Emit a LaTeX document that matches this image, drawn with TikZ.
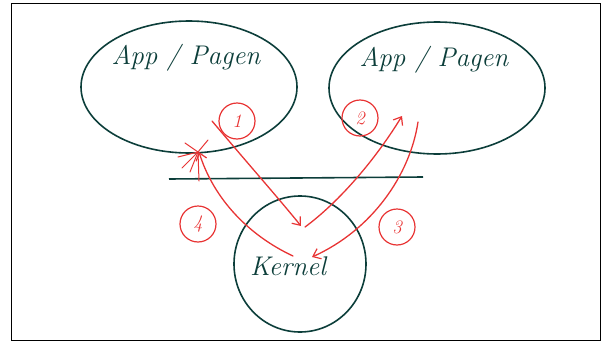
\documentclass[tikz,border=0pt]{standalone}
\usetikzlibrary{arrows.meta,shapes.geometric}
\definecolor{ink}{RGB}{12,62,58}
\definecolor{pen}{RGB}{232,52,52}
\tikzset{
  outline/.style={draw=ink, line width=1.6pt, line join=round},
  flow/.style={draw=pen, line width=1.3pt, line cap=round,
    -{Straight Barb[length=7pt,width=11pt,line width=1.2pt]}},
  spoke/.style={draw=pen, line width=1pt, line cap=round},
  stepmark/.style={circle, draw=pen, line width=1.2pt, minimum size=36pt,
    inner sep=0pt, text=pen, font=\fontsize{19}{19}\selectfont\itshape},
  handtext/.style={text=ink, font=\fontsize{27}{29}\selectfont\itshape},
  oval/.style={outline, ellipse, inner sep=0pt}
}
\begin{document}
\begin{tikzpicture}[x=1pt,y=-1pt]
\useasboundingbox (0,0) rectangle (608,343);
\draw[line width=1pt] (11,3) rectangle (600,340);

% two application processes
\node[oval, minimum width=216pt, minimum height=132pt] (procL) at (189,87) {};
\node[oval, minimum width=216pt, minimum height=132pt] (procR) at (437,88) {};
\node[handtext] (appL) at (186,58) {App / Pagen};
\node[handtext] (appR) at (434,60) {App / Pagen};

% user/kernel boundary
\coordinate (bl) at (169,179);
\coordinate (br) at (423,177);
\draw[ink, line width=1.6pt] (bl) -- (br);

% kernel
\node[oval, minimum width=132pt, minimum height=136pt] (kern) at (300,264) {};
\node[handtext] (kl) at (288,266) {Kernel};

% numbered steps
\node[stepmark] (n1) at (237,121) {1};
\node[stepmark] (n2) at (360,118) {2};
\node[stepmark] (n3) at (397,227) {3};
\node[stepmark] (n4) at (198,224) {4};

% path of a call
\coordinate (a1s) at (212,121);
\coordinate (a1e) at (301,226);
\coordinate (a2s) at (305,227);
\coordinate (a2e) at (402,116);
\coordinate (a3s) at (418,122);
\coordinate (a3e) at (312,257);
\coordinate (a4s) at (293,256);
\coordinate (a4e) at (199,152);
\coordinate (hit) at (198,152);
\coordinate (vb) at (199,181);

\draw[flow] (a1s) .. controls (250,166) and (280,200) .. (a1e);
\draw[flow] (a2s) .. controls (335,205) and (372,165) .. (a2e);
\draw[flow] (a3s) .. controls (410,175) and (372,230) .. (a3e);
\draw[flow] (a4s) .. controls (250,236) and (214,200) .. (a4e);
\draw[spoke] (vb) -- (hit);

% burst where control returns
\foreach \dx/\dy in {-16/16, -20/5, -13/-9, 10/-12, -8/20} {
  \draw[spoke] (hit) -- ++(\dx,\dy);
}
\end{tikzpicture}
\end{document}
